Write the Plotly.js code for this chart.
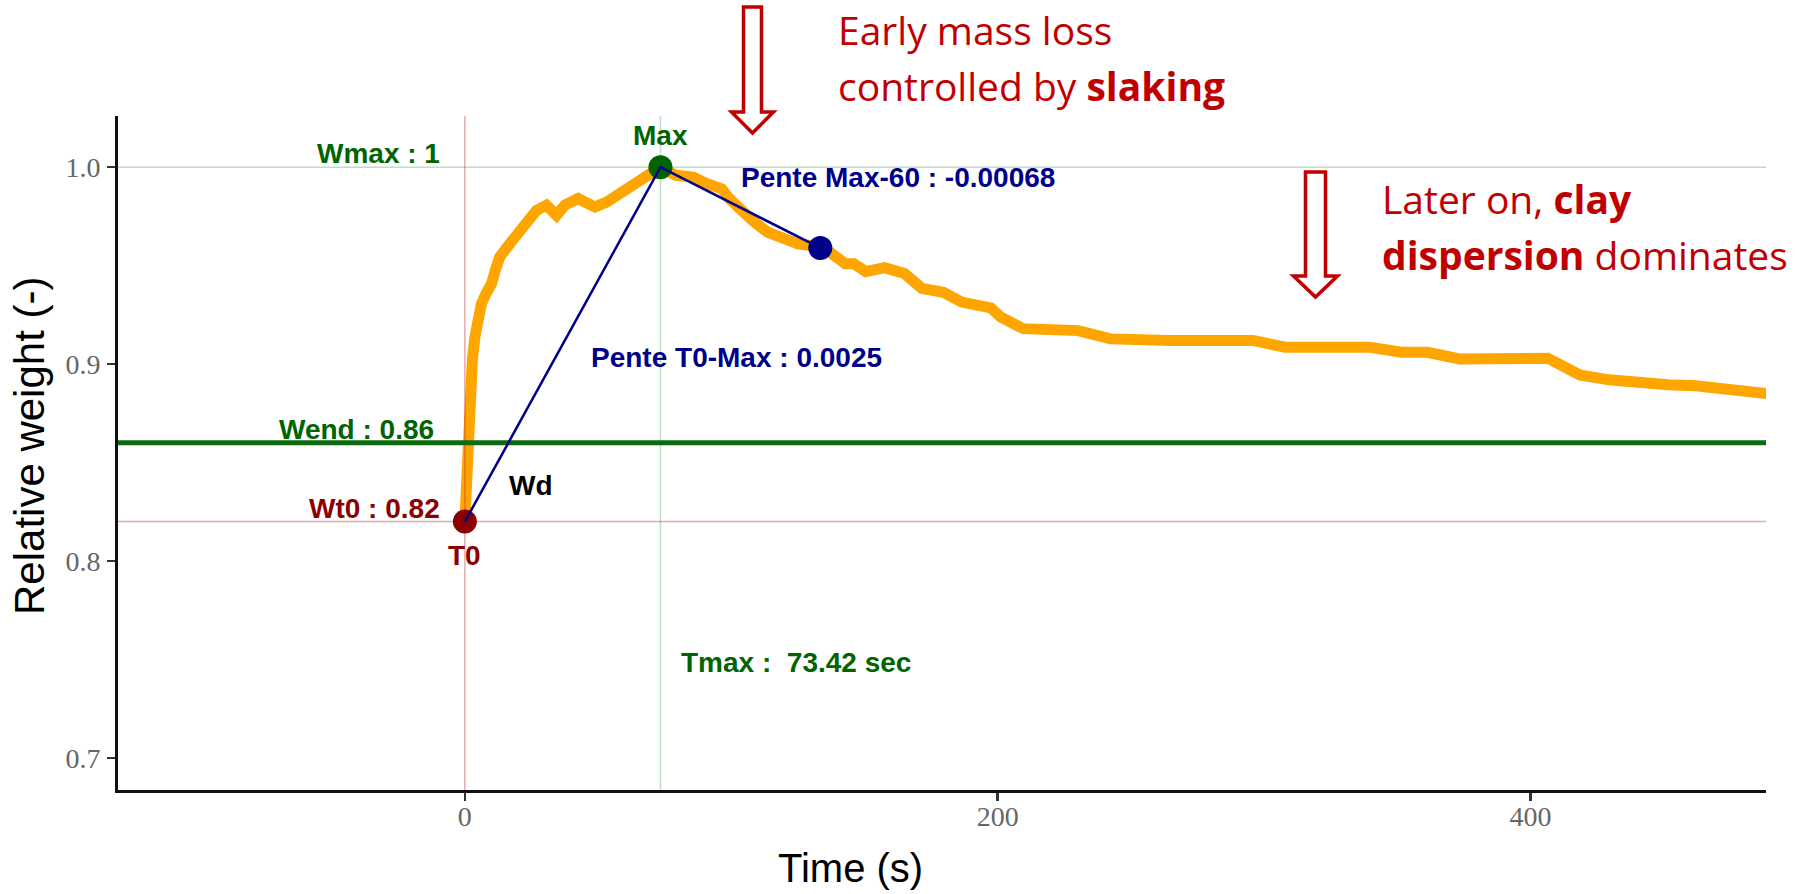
<!DOCTYPE html>
<html>
<head>
<meta charset="utf-8">
<script src="https://cdn.plot.ly/plotly-3.0.1.min.js"></script>
<style>
  html, body { margin: 0; padding: 0; background: #ffffff; }
  #chart { width: 1816px; height: 894px; }
</style>
</head>
<body>
<div id="chart"></div>
<script>
// ---------- data ----------
const TIME = [0, 0.4, 0.8, 1.2, 1.6, 2.1, 2.8, 3.75, 4.8, 6.2, 8, 10, 11.5, 13.1, 16.9, 21.9, 26.9, 30.6, 32.5, 34.4, 37.5, 42.5, 45.5, 48.8, 53.2, 59.4, 65.7, 71.3, 73.42,
  79.2, 85.7, 90.6, 96.4, 99.3, 102.2, 107.9, 113.6, 119.4, 125.1, 134.4, 139.4, 142.8, 146, 150.5, 157.5, 165, 171.5, 179.6, 186.5, 197.5, 201,
  209.6, 230.2, 242.4, 264.2, 295.8, 307.9, 339.4, 351.6, 361.3, 373.4, 406.5, 418.5, 429.5, 451.5, 462, 488.6];
const WEIGHT = [0.82, 0.835, 0.848, 0.86, 0.875, 0.888, 0.902, 0.9136, 0.923, 0.9306, 0.936, 0.9408, 0.948, 0.9544, 0.9612, 0.9696, 0.9781, 0.9807, 0.978, 0.9756, 0.9807, 0.9841, 0.982, 0.9798, 0.9823, 0.9874, 0.9934, 0.9976, 1.0,
  0.9959, 0.995, 0.9918, 0.989, 0.984, 0.980, 0.973, 0.967, 0.9645, 0.961, 0.9594, 0.954, 0.951, 0.951, 0.947, 0.949, 0.946, 0.9385, 0.9365, 0.9315, 0.9285, 0.924,
  0.918, 0.917, 0.9128, 0.912, 0.912, 0.9086, 0.9086, 0.906, 0.906, 0.9026, 0.903, 0.8945, 0.892, 0.8895, 0.889, 0.885];

const T0_TIME = 0;
const W_T0 = 0.82;
const T_MAX = 73.42;
const W_MAX = 1.0;
const T_P60 = 133.42;
const W_P60 = 0.959;
const W_END = 0.86;

const X_TICKS = [0, 200, 400];
const Y_TICKS = [0.7, 0.8, 0.9, 1.0];
const Y_TICK_TEXT = ["0.7", "0.8", "0.9", "1.0"];
const X_RANGE = [-130.2, 488.4];
const Y_RANGE = [0.6837, 1.026];

// ---------- styles ----------
const GREEN = '#006400', NAVY = '#00008B', DRED = '#8B0000', RED = '#C00000';
const labelFont = (c) => ({ family: 'Liberation Sans, Arial, sans-serif', size: 28, color: c });
const redFont = { family: 'Open Sans, sans-serif', size: 39, color: RED };

// plot area in pixels (for outside-plot decorations)
const PL = 118, PR = 1766, PT = 116, PB = 790;
const px2paperX = (X) => (X - PL) / (PR - PL);
const px2paperY = (Y) => (PB - Y) / (PB - PT);

function blockArrow(cx, yTop, yHead, yTip, halfShaft, halfHead) {
  const p = [
    [cx - halfShaft, yTop], [cx + halfShaft, yTop], [cx + halfShaft, yHead], [cx + halfHead, yHead],
    [cx, yTip], [cx - halfHead, yHead], [cx - halfShaft, yHead]
  ].map(([x, y]) => px2paperX(x).toFixed(5) + ',' + px2paperY(y).toFixed(5));
  return 'M' + p.join(' L') + ' Z';
}

const refLine = (x, y, color, width) => ({
  type: 'scatter', mode: 'lines', x: x, y: y, hoverinfo: 'skip', showlegend: false,
  line: { color: color, width: width }
});

const traces = [
  // measured curve
  { type: 'scatter', mode: 'lines', x: TIME, y: WEIGHT, showlegend: false,
    line: { color: '#FFA500', width: 11 } },
  // reference lines
  refLine([T0_TIME, T0_TIME], Y_RANGE, 'rgba(190,40,40,0.40)', 1.5),
  refLine([T_MAX, T_MAX], Y_RANGE, 'rgba(0,120,0,0.25)', 1.5),
  refLine(X_RANGE, [W_MAX, W_MAX], 'rgba(0,120,0,0.25)', 1.5),
  refLine(X_RANGE, [W_T0, W_T0], 'rgba(190,40,40,0.40)', 1.5),
  refLine(X_RANGE, [W_END, W_END], '#0E6A0E', 5),
  // key points
  { type: 'scatter', mode: 'markers', x: [T0_TIME], y: [W_T0], showlegend: false,
    marker: { color: DRED, size: 24 } },
  { type: 'scatter', mode: 'markers', x: [T_MAX], y: [W_MAX], showlegend: false,
    marker: { color: GREEN, size: 24 } },
  { type: 'scatter', mode: 'markers', x: [T_P60], y: [W_P60], showlegend: false,
    marker: { color: NAVY, size: 24 } },
  // slope segments
  { type: 'scatter', mode: 'lines', x: [T0_TIME, T_MAX, T_P60], y: [W_T0, W_MAX, W_P60], showlegend: false,
    line: { color: NAVY, width: 2.5 } }
];

const ann = (text, x, y, color) => ({
  text: '<b>' + text + '</b>', x: x, y: y, xref: 'x', yref: 'y', showarrow: false,
  xanchor: 'center', yanchor: 'middle', font: labelFont(color)
});

const annotations = [
  ann('Wmax : 1', -32.6, 1.0071, GREEN),
  ann('Max', T_MAX, 1.0163, GREEN),
  ann('Pente Max-60 : -0.00068', 162.5, 0.9949, NAVY),
  ann('Pente T0-Max : 0.0025', 101.9, 0.9033, NAVY),
  ann('Wend : 0.86', -40.5, 0.8669, GREEN),
  ann('Wd', 24.8, 0.8382, '#000000'),
  ann('Wt0 : 0.82', -34.1, 0.8267, DRED),
  ann('T0', T0_TIME, 0.803, DRED),
  ann('Tmax :\u00a0 73.42 sec', 124.4, 0.7486, GREEN),
  // axis titles
  { text: 'Relative weight (-)', xref: 'paper', yref: 'paper', x: px2paperX(29), y: px2paperY(446),
    textangle: -90, showarrow: false, xanchor: 'center', yanchor: 'middle',
    font: { family: 'Liberation Sans, Arial, sans-serif', size: 42, color: '#000000' } },
  { text: 'Time (s)', xref: 'paper', yref: 'paper', x: px2paperX(850), y: px2paperY(868),
    showarrow: false, xanchor: 'center', yanchor: 'middle',
    font: { family: 'Liberation Sans, Arial, sans-serif', size: 40, color: '#000000' } },
  // commentary
  { text: 'Early mass loss', xref: 'paper', yref: 'paper', x: px2paperX(836), y: px2paperY(29),
    showarrow: false, xanchor: 'left', yanchor: 'middle', font: redFont },
  { text: 'controlled by <b>slaking</b>', xref: 'paper', yref: 'paper', x: px2paperX(836), y: px2paperY(86),
    showarrow: false, xanchor: 'left', yanchor: 'middle', font: redFont },
  { text: 'Later on, <b>clay</b>', xref: 'paper', yref: 'paper', x: px2paperX(1380), y: px2paperY(198),
    showarrow: false, xanchor: 'left', yanchor: 'middle', font: redFont },
  { text: '<b>dispersion</b> dominates', xref: 'paper', yref: 'paper', x: px2paperX(1380), y: px2paperY(255),
    showarrow: false, xanchor: 'left', yanchor: 'middle', font: redFont }
];

const shapes = [
  { type: 'path', xref: 'paper', yref: 'paper', path: blockArrow(752.5, 7, 112, 133, 9, 21),
    line: { color: RED, width: 3.5 }, fillcolor: '#ffffff' },
  { type: 'path', xref: 'paper', yref: 'paper', path: blockArrow(1315.5, 172, 276, 297, 10, 22),
    line: { color: RED, width: 3.5 }, fillcolor: '#ffffff' }
];

const layout = {
  width: 1816, height: 894,
  margin: { l: PL, r: 1816 - PR, t: PT, b: 894 - PB, pad: 0 },
  paper_bgcolor: '#ffffff', plot_bgcolor: '#ffffff',
  showlegend: false,
  xaxis: {
    range: X_RANGE, tickvals: X_TICKS, ticktext: X_TICKS.map(String),
    showgrid: false, zeroline: false, showline: true, linecolor: '#111111', linewidth: 3,
    ticks: 'outside', ticklen: 8, tickwidth: 2.5, tickcolor: '#333333',
    tickfont: { family: 'Liberation Serif, Times New Roman, serif', size: 28, color: '#666666' },
    ticklabelstandoff: -9
  },
  yaxis: {
    range: Y_RANGE, tickvals: Y_TICKS, ticktext: Y_TICK_TEXT,
    showgrid: false, zeroline: false, showline: true, linecolor: '#111111', linewidth: 3,
    ticks: 'outside', ticklen: 8, tickwidth: 2.5, tickcolor: '#333333',
    tickfont: { family: 'Liberation Serif, Times New Roman, serif', size: 28, color: '#666666' },
    ticklabelstandoff: 1
  },
  annotations: annotations,
  shapes: shapes
};

Plotly.newPlot('chart', traces, layout, { displayModeBar: false, staticPlot: true });
</script>
</body>
</html>
